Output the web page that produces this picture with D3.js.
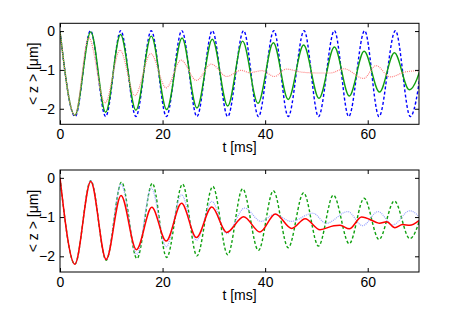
<!DOCTYPE html>
<html>
<head>
<meta charset="utf-8">
<script src="https://cdn.jsdelivr.net/npm/d3@7"></script>
<style>
  body { margin: 0; background: #fff; }
  svg { display: block; }
  text { font-family: "Liberation Sans", Arial, Helvetica, sans-serif; }
</style>
</head>
<body>
<div id="plot"></div>
<script>
const w = 463;
const h = 310;

// top panel, times (ms) and <z> (um)
const topBlueT = [0, 2.95, 5.95, 8.9, 11.85, 14.8, 17.8, 20.75, 23.75, 26.7, 29.7, 32.7, 35.8, 38.7, 41.7, 44.5, 47.6, 50.4, 53.5, 56.3, 59.4, 62.2, 65.4, 68.3, 71.3];
const topBlueZ = [0, -2.2, 0.01, -2.2, 0.01, -2.2, 0.01, -2.2, 0.01, -2.2, 0.01, -2.2, 0.01, -2.2, 0.01, -2.2, 0.01, -2.2, 0.01, -2.2, 0.01, -2.2, 0.01, -2.2, 0.01];

const topGreenT = [0, 2.9, 6.0, 8.9, 11.8, 14.8, 17.8, 20.8, 23.8, 26.7, 29.7, 32.7, 35.6, 38.6, 41.6, 44.5, 47.5, 50.5, 53.5, 56.4, 59.3, 62.3, 65.2, 68.1, 71.1];
const topGreenZ = [0, -2.17, -0.02, -2.09, -0.09, -2.04, -0.13, -2.02, -0.18, -1.98, -0.21, -1.93, -0.26, -1.86, -0.30, -1.76, -0.36, -1.73, -0.41, -1.67, -0.52, -1.57, -0.56, -1.51, -0.62];

const topRedT = [0, 2.9, 5.6, 8.8, 11.7, 14.6, 17.7, 20.7, 23.6, 26.6, 29.5, 32.5, 35.3, 37.0, 39.4, 41.8, 44.1, 47.3, 50.6, 52.7, 55.4, 59.2, 61.6, 64.4, 67.4, 70];
const topRedZ = [0, -2.17, -0.17, -1.85, -0.49, -1.66, -0.58, -1.46, -0.75, -1.27, -0.85, -1.17, -1.01, -1.07, -1.02, -1.17, -0.98, -1.06, -1.08, -1.08, -0.97, -1.22, -0.89, -1.18, -1.05, -1.02];

// bottom panel
const botGreenT = [0, 2.9, 6.0, 9.0, 12.0, 15.0, 18.0, 20.8, 23.9, 26.7, 29.8, 32.7, 35.6, 38.7, 41.6, 44.5, 47.5, 50.4, 53.3, 56.4, 59.3, 62.2, 65.2, 68.2, 71.1];
const botGreenZ = [0, -2.2, -0.07, -2.1, -0.11, -2.06, -0.14, -2.03, -0.16, -1.99, -0.22, -1.96, -0.28, -1.85, -0.33, -1.78, -0.38, -1.74, -0.44, -1.68, -0.52, -1.57, -0.59, -1.55, -0.62];

const botBlueT = [0, 2.9, 6.0, 9.0, 11.9, 15.0, 17.8, 20.7, 23.7, 26.6, 29.6, 32.5, 36.0, 39.2, 41.8, 45.1, 49.3, 51.9, 56.1, 59.0, 62.0, 64.9, 68.2, 71];
const botBlueZ = [0, -2.2, -0.07, -2.09, -0.16, -1.95, -0.26, -1.76, -0.43, -1.59, -0.6, -1.42, -0.77, -1.11, -0.93, -1.11, -0.9, -1.16, -0.86, -1.22, -0.86, -1.2, -0.84, -1.15];

const botRedT = [0, 2.9, 6.0, 9.0, 11.9, 14.9, 17.9, 20.7, 23.7, 26.6, 29.6, 32.5, 35.8, 39.0, 42.0, 45.2, 47.8, 50.7, 53.4, 54.6, 56.4, 58.8, 61.6, 62.3, 63.7, 65.3, 66.8, 68.2, 70];
const botRedZ = [0, -2.2, -0.09, -2.08, -0.45, -1.83, -0.75, -1.61, -0.65, -1.52, -0.74, -1.39, -0.99, -1.38, -0.92, -1.29, -1.04, -1.32, -1.22, -1.21, -1.3, -1.0, -1.13, -1.16, -1.12, -1.27, -1.19, -1.21, -1.09];

const xTicks = [0, 20, 40, 60];
const yTicks = [-2, -1, 0];

const zip = (ts, zs) => ts.map((t, i) => [t, zs[i]]);

const panels = [
  { top: 23.3, bottom: 124.3, series: [
    { d: zip(topBlueT, topBlueZ), color: "#0000ff", width: 1.4, dash: "3,2.2" },
    { d: zip(topGreenT, topGreenZ), color: "#10a010", width: 1.4, dash: null },
    { d: zip(topRedT, topRedZ), color: "#ff8080", width: 1.2, dash: "1,1" }
  ]},
  { top: 170, bottom: 272, series: [
    { d: zip(botGreenT, botGreenZ), color: "#10a010", width: 1.4, dash: "3,2.2" },
    { d: zip(botBlueT, botBlueZ), color: "#98a4ff", width: 1.2, dash: "1,1" },
    { d: zip(botRedT, botRedZ), color: "#ff0000", width: 1.5, dash: null }
  ]}
];

const left = 60, right = 419;
const fs = "14px";

const svg = d3.select("#plot").append("svg").attr("width", w).attr("height", h);

const fmt = d => d < 0 ? "\u2212" + Math.abs(d) : String(d);

panels.forEach((p, k) => {
  const xScale = d3.scaleLinear().domain([0, 70]).range([left, right]);
  const yScale = d3.scaleLinear().domain([-2.4, 0.2]).range([p.bottom, p.top]);

  const clipId = "clip" + k;
  svg.append("clipPath").attr("id", clipId).append("rect")
    .attr("x", left).attr("y", p.top).attr("width", right - left).attr("height", p.bottom - p.top);

  const line = d3.line().x(d => xScale(d[0])).y(d => yScale(d[1])).curve(d3.curveMonotoneX);

  const g = svg.append("g").attr("clip-path", "url(#" + clipId + ")");
  p.series.forEach(s => {
    g.append("path")
      .attr("d", line(s.d))
      .attr("fill", "none")
      .attr("stroke", s.color)
      .attr("stroke-width", s.width)
      .attr("stroke-dasharray", s.dash);
  });

  const xAxis = d3.axisBottom(xScale).tickValues(xTicks).tickSizeInner(-4).tickSizeOuter(0).tickPadding(5);
  const xTop = d3.axisTop(xScale).tickValues(xTicks).tickSizeInner(-4).tickSizeOuter(0).tickFormat("");
  const yAxis = d3.axisLeft(yScale).tickValues(yTicks).tickSizeInner(-4).tickSizeOuter(0).tickPadding(5).tickFormat(fmt);
  const yRight = d3.axisRight(yScale).tickValues(yTicks).tickSizeInner(-4).tickSizeOuter(0).tickFormat("");

  const axes = [
    svg.append("g").attr("transform", "translate(0," + p.bottom + ")").call(xAxis),
    svg.append("g").attr("transform", "translate(0," + p.top + ")").call(xTop),
    svg.append("g").attr("transform", "translate(" + left + ",0)").call(yAxis),
    svg.append("g").attr("transform", "translate(" + right + ",0)").call(yRight)
  ];
  axes.forEach(a => {
    a.select(".domain").remove();
    a.selectAll("line").attr("stroke", "#000");
    a.selectAll("text").attr("fill", "#000").style("font-size", fs)
      .style("font-family", "'Liberation Sans', Arial, sans-serif");
  });

  svg.append("rect")
    .attr("x", left).attr("y", p.top)
    .attr("width", right - left).attr("height", p.bottom - p.top)
    .attr("fill", "none").attr("stroke", "#000").attr("stroke-width", 1);

  svg.append("text")
    .attr("x", (left + right) / 2).attr("y", p.bottom + 27.5)
    .attr("text-anchor", "middle").style("font-size", fs)
    .text("t [ms]");

  svg.append("text")
    .attr("transform", "translate(38," + (p.top + p.bottom) / 2 + ") rotate(-90)")
    .attr("text-anchor", "middle").style("font-size", fs)
    .text("< z > [\u03bcm]");
});
</script>
</body>
</html>
